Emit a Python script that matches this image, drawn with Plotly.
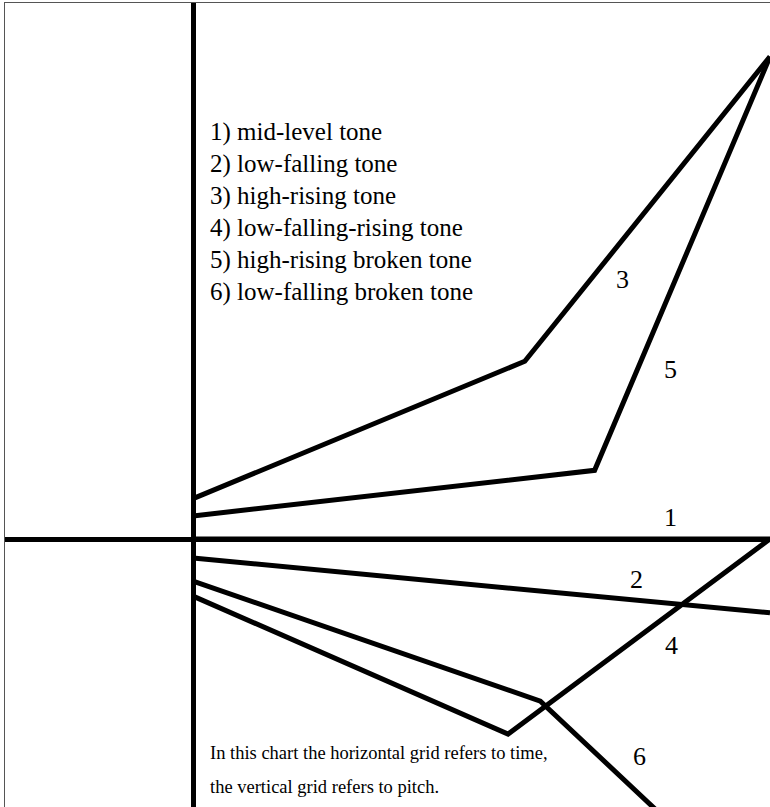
import plotly.graph_objects as go

# Tone contours: time (0-100) vs pitch (0 = mid level)
tone_names = ["1) mid-level tone", "2) low-falling tone", "3) high-rising tone",
              "4) low-falling-rising tone", "5) high-rising broken tone",
              "6) low-falling broken tone"]
tone_ids = ["1", "2", "3", "4", "5", "6"]

tone1_t = [0, 100]
tone1_p = [0, 0]
tone2_t = [0, 100]
tone2_p = [-3.3, -12.8]
tone3_t = [0, 57.5, 100]
tone3_p = [7.0, 30.8, 83.6]
tone4_t = [0, 54.6, 100]
tone4_p = [-9.9, -33.8, 0]
tone5_t = [0, 69.6, 100]
tone5_p = [4.0, 11.9, 83.6]
tone6_t = [0, 60.2, 82]
tone6_p = [-7.3, -28.1, -48.6]

series_t = [tone1_t, tone2_t, tone3_t, tone4_t, tone5_t, tone6_t]
series_p = [tone1_p, tone2_p, tone3_p, tone4_p, tone5_p, tone6_p]

# label positions for the tone numbers (time, pitch)
label_t = [82.7, 76.8, 74.5, 82.9, 82.7, 77.3]
label_p = [3.8, -7.1, 44.9, -18.5, 29.3, -37.7]

note_lines = ["In this chart the horizontal grid refers to time,",
              "the vertical grid refers to pitch."]

fig = go.Figure()
for t, p, n in zip(series_t, series_p, tone_names):
    fig.add_trace(go.Scatter(x=t, y=p, mode="lines", name=n,
                             line=dict(color="black", width=5),
                             hoverinfo="skip", showlegend=False))

font_family = "Liberation Serif, Times New Roman, serif"
annotations = []
for i, n in enumerate(tone_names):
    annotations.append(dict(x=2.6, y=(539 - (132 + 32 * i)) / 5.77, xref="x", yref="y",
                            text=n, showarrow=False, xanchor="left", yanchor="middle",
                            font=dict(family=font_family, size=25, color="black")))
for lid, lt, lp in zip(tone_ids, label_t, label_p):
    annotations.append(dict(x=lt, y=lp, xref="x", yref="y", text=lid, showarrow=False,
                            xanchor="center", yanchor="middle",
                            font=dict(family=font_family, size=26, color="black")))
for i, s in enumerate(note_lines):
    annotations.append(dict(x=2.6, y=(539 - (753 + 34 * i)) / 5.77, xref="x", yref="y",
                            text=s, showarrow=False, xanchor="left", yanchor="middle",
                            font=dict(family=font_family, size=18.5, color="black")))

fig.update_layout(
    width=770, height=807,
    margin=dict(l=5, r=0, t=3, b=0),
    paper_bgcolor="white", plot_bgcolor="white",
    annotations=annotations,
    xaxis=dict(range=[(5 - 193) / 5.77, 100], showgrid=False, showticklabels=False,
               ticks="", zeroline=True, zerolinecolor="black", zerolinewidth=5,
               showline=True, linecolor="#555", linewidth=1, side="top", fixedrange=True),
    yaxis=dict(range=[-(807 - 539) / 5.77, (539 - 3) / 5.77], showgrid=False,
               showticklabels=False, ticks="", zeroline=True, zerolinecolor="black",
               zerolinewidth=5, showline=True, linecolor="#555", linewidth=1,
               fixedrange=True),
)

fig.write_html("out.html", config={"displayModeBar": False},
               post_script="document.body.style.margin='0';document.body.style.overflow='hidden';")
